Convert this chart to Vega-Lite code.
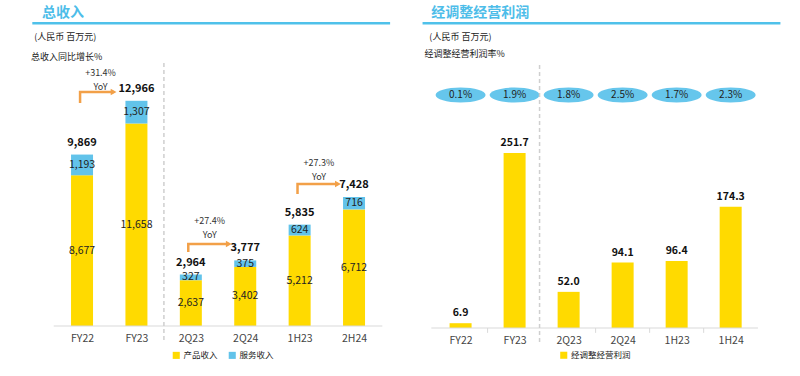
{
  "$schema": "https://vega.github.io/schema/vega-lite/v6.json",
  "padding": 0,
  "spacing": 0,
  "background": "white",
  "config": {"font": "Noto Sans CJK SC", "view": {"stroke": null}},
  "resolve": {"scale": {"color": "independent"}, "legend": {"color": "independent"}},
  "datasets": {
    "rev": [
      {"period": "FY22", "x": 0, "series": "产品收入", "y": 8677},
      {"period": "FY22", "x": 0, "series": "服务收入", "y": 1193},
      {"period": "FY23", "x": 1, "series": "产品收入", "y": 11658},
      {"period": "FY23", "x": 1, "series": "服务收入", "y": 1307},
      {"period": "2Q23", "x": 2, "series": "产品收入", "y": 2637},
      {"period": "2Q23", "x": 2, "series": "服务收入", "y": 327},
      {"period": "2Q24", "x": 3, "series": "产品收入", "y": 3402},
      {"period": "2Q24", "x": 3, "series": "服务收入", "y": 375},
      {"period": "1H23", "x": 4, "series": "产品收入", "y": 5212},
      {"period": "1H23", "x": 4, "series": "服务收入", "y": 624},
      {"period": "2H24", "x": 5, "series": "产品收入", "y": 6712},
      {"period": "2H24", "x": 5, "series": "服务收入", "y": 716}
    ],
    "tot": [
      {"period": "FY22", "x": 0, "y": 9869},
      {"period": "FY23", "x": 1, "y": 12966},
      {"period": "2Q23", "x": 2, "y": 2964},
      {"period": "2Q24", "x": 3, "y": 3777},
      {"period": "1H23", "x": 4, "y": 5835},
      {"period": "2H24", "x": 5, "y": 7428}
    ],
    "yoy": [
      {"x": 0.34, "y": 14565, "t": "+31.4%"},
      {"x": 0.34, "y": 13759, "t": "YoY"},
      {"x": 2.348, "y": 6045, "t": "+27.4%"},
      {"x": 2.348, "y": 5239, "t": "YoY"},
      {"x": 4.355, "y": 9384, "t": "+27.3%"},
      {"x": 4.355, "y": 8578, "t": "YoY"}
    ],
    "arrows": [
      {"g": "a", "o": 1, "x": -0.036, "y": 12838},
      {"g": "a", "o": 2, "x": -0.036, "y": 13472},
      {"g": "a", "o": 3, "x": 0.58, "y": 13472},
      {"g": "b", "o": 1, "x": 1.953, "y": 4260},
      {"g": "b", "o": 2, "x": 1.953, "y": 4721},
      {"g": "b", "o": 3, "x": 2.697, "y": 4721},
      {"g": "c", "o": 1, "x": 3.961, "y": 7599},
      {"g": "c", "o": 2, "x": 3.961, "y": 8175},
      {"g": "c", "o": 3, "x": 4.704, "y": 8175}
    ],
    "op": [
      {"period": "FY22", "x": 0, "y": 6.9, "m": "0.1%", "series": "经调整经营利润"},
      {"period": "FY23", "x": 1, "y": 251.7, "m": "1.9%", "series": "经调整经营利润"},
      {"period": "2Q23", "x": 2, "y": 52.0, "m": "1.8%", "series": "经调整经营利润"},
      {"period": "2Q24", "x": 3, "y": 94.1, "m": "2.5%", "series": "经调整经营利润"},
      {"period": "1H23", "x": 4, "y": 96.4, "m": "1.7%", "series": "经调整经营利润"},
      {"period": "1H24", "x": 5, "y": 174.3, "m": "2.3%", "series": "经调整经营利润"}
    ]
  },
  "hconcat": [
    {
      "width": 400,
      "height": 326,
      "layer": [
        {
          "data": {"name": "rev"},
          "mark": {"type": "bar", "width": 22},
          "encoding": {
            "x": {"field": "x", "type": "quantitative", "scale": {"domain": [-1.416, 5.753], "nice": false, "zero": false},
              "axis": {"values": [0, 1, 2, 3, 4, 5], "labelExpr": "['FY22','FY23','2Q23','2Q24','1H23','2H24'][datum.value]", "grid": false, "domain": false, "ticks": false, "tickSize": 0, "labelPadding": 7, "labelFontSize": 10.5, "labelColor": "#444", "labelOverlap": false, "labelFlush": false, "title": null}},
            "y": {"field": "y", "type": "quantitative", "stack": "zero", "scale": {"domain": [0, 18768], "nice": false, "zero": false}, "axis": null},
            "color": {"field": "series", "type": "nominal", "scale": {"domain": ["产品收入", "服务收入"], "range": ["#FFDA00", "#62C3EA"]},
              "legend": {"orient": "none", "legendX": 172, "legendY": 351, "direction": "horizontal", "title": null, "symbolType": "square", "symbolSize": 50, "symbolStrokeWidth": 0, "labelFontSize": 8.5, "labelColor": "#222", "padding": 0, "columnPadding": 10, "labelOffset": 3}},
            "order": {"field": "series", "sort": "ascending"}
          }
        },
        {
          "data": {"name": "rev"},
          "transform": [
            {"stack": "y", "groupby": ["x"], "sort": [{"field": "series"}], "as": ["y0", "y1"]},
            {"calculate": "(datum.y0 + datum.y1) / 2", "as": "ym"}
          ],
          "mark": {"type": "text", "fontSize": 10.5, "color": "#222", "baseline": "middle"},
          "encoding": {
            "x": {"field": "x", "type": "quantitative"},
            "y": {"field": "ym", "type": "quantitative"},
            "text": {"field": "y", "type": "quantitative", "format": ","}
          }
        },
        {
          "data": {"name": "tot"},
          "mark": {"type": "text", "fontSize": 11, "fontWeight": "bold", "color": "#111", "baseline": "middle", "dy": -12},
          "encoding": {
            "x": {"field": "x", "type": "quantitative"},
            "y": {"field": "y", "type": "quantitative"},
            "text": {"field": "y", "type": "quantitative", "format": ","}
          }
        },
        {
          "data": {"values": [{"x": -0.52, "x2": 5.52}]},
          "mark": {"type": "rule", "color": "#d9d9d9", "strokeWidth": 1},
          "encoding": {"x": {"field": "x", "type": "quantitative"}, "x2": {"field": "x2"}, "y": {"datum": 0}}
        },
        {
          "data": {"values": [{"x": 1.505}]},
          "mark": {"type": "rule", "color": "#cfcfcf", "strokeWidth": 1.5, "strokeDash": [4, 3]},
          "encoding": {"x": {"field": "x", "type": "quantitative"}, "y": {"datum": 15141}, "y2": {"datum": -806}}
        },
        {
          "data": {"name": "arrows"},
          "mark": {"type": "line", "color": "#F2A048", "strokeWidth": 2.5},
          "encoding": {
            "x": {"field": "x", "type": "quantitative"},
            "y": {"field": "y", "type": "quantitative"},
            "detail": {"field": "g"},
            "order": {"field": "o"}
          }
        },
        {
          "data": {"name": "arrows"},
          "transform": [{"filter": "datum.o == 3"}],
          "mark": {"type": "point", "shape": "triangle-right", "size": 45, "filled": true, "color": "#F2A048", "opacity": 1},
          "encoding": {
            "x": {"field": "x", "type": "quantitative"},
            "y": {"field": "y", "type": "quantitative"}
          }
        },
        {
          "data": {"name": "yoy"},
          "mark": {"type": "text", "fontSize": 9, "color": "#333", "baseline": "middle"},
          "encoding": {
            "x": {"field": "x", "type": "quantitative"},
            "y": {"field": "y", "type": "quantitative"},
            "text": {"field": "t"}
          }
        },
        {
          "data": {"values": [{"t": "总收入"}]},
          "mark": {"type": "text", "fontSize": 14, "fontWeight": "bold", "color": "#4DBDE9", "align": "left", "baseline": "middle"},
          "encoding": {"x": {"datum": -0.735}, "y": {"datum": 18020}, "text": {"field": "t"}}
        },
        {
          "data": {"values": [{"x": -0.914, "x2": 5.663}]},
          "mark": {"type": "rule", "color": "#4FC1EA", "strokeWidth": 2.5},
          "encoding": {"x": {"field": "x", "type": "quantitative"}, "x2": {"field": "x2"}, "y": {"datum": 17427}}
        },
        {
          "data": {"values": [{"t": "(人民币 百万元)", "x": -0.878, "y": 16655}, {"t": "总收入同比增长%", "x": -0.937, "y": 15469}]},
          "mark": {"type": "text", "fontSize": 9, "color": "#222", "align": "left", "baseline": "middle"},
          "encoding": {"x": {"field": "x", "type": "quantitative"}, "y": {"field": "y", "type": "quantitative"}, "text": {"field": "t"}}
        }
      ]
    },
    {
      "width": 400,
      "height": 328,
      "layer": [
        {
          "data": {"name": "op"},
          "mark": {"type": "bar", "width": 22},
          "encoding": {
            "x": {"field": "x", "type": "quantitative", "scale": {"domain": [-1.029, 6.191], "nice": false, "zero": false},
              "axis": {"values": [0, 1, 2, 3, 4, 5], "labelExpr": "['FY22','FY23','2Q23','2Q24','1H23','1H24'][datum.value]", "grid": false, "domain": false, "ticks": false, "tickSize": 0, "labelPadding": 7, "labelFontSize": 10.5, "labelColor": "#444", "labelOverlap": false, "labelFlush": false, "title": null}},
            "y": {"field": "y", "type": "quantitative", "scale": {"domain": [0, 471.9], "nice": false, "zero": false}, "axis": null},
            "color": {"field": "series", "type": "nominal", "scale": {"domain": ["经调整经营利润"], "range": ["#FFDA00"]},
              "legend": {"orient": "none", "legendX": 159.5, "legendY": 351, "direction": "horizontal", "title": null, "symbolType": "square", "symbolSize": 50, "symbolStrokeWidth": 0, "labelFontSize": 8.5, "labelColor": "#222", "padding": 0, "labelOffset": 3}}
          }
        },
        {
          "data": {"name": "op"},
          "mark": {"type": "text", "fontSize": 10.5, "fontWeight": "bold", "color": "#111", "baseline": "middle", "dy": -10},
          "encoding": {
            "x": {"field": "x", "type": "quantitative"},
            "y": {"field": "y", "type": "quantitative"},
            "text": {"field": "y", "type": "quantitative", "format": ".1f"}
          }
        },
        {
          "data": {"name": "op"},
          "mark": {"type": "point", "shape": "M-1,0A1,0.3,0,1,1,1,0A1,0.3,0,1,1,-1,0Z", "size": 2500, "filled": true, "color": "#66C6EC", "opacity": 1},
          "encoding": {
            "x": {"field": "x", "type": "quantitative"},
            "y": {"datum": 335.2}
          }
        },
        {
          "data": {"name": "op"},
          "mark": {"type": "text", "fontSize": 10, "color": "#222", "baseline": "middle"},
          "encoding": {
            "x": {"field": "x", "type": "quantitative"},
            "y": {"datum": 335.2},
            "text": {"field": "m"}
          }
        },
        {
          "data": {"values": [{"x": -0.542, "x2": 5.505}]},
          "mark": {"type": "rule", "color": "#d9d9d9", "strokeWidth": 1},
          "encoding": {"x": {"field": "x", "type": "quantitative"}, "x2": {"field": "x2"}, "y": {"datum": 0}}
        },
        {
          "data": {"values": [{"x": 0.5}, {"x": 2.5}, {"x": 3.5}, {"x": 4.5}]},
          "mark": {"type": "rule", "color": "#d9d9d9", "strokeWidth": 1},
          "encoding": {"x": {"field": "x", "type": "quantitative"}, "y": {"datum": 0}, "y2": {"datum": -7}}
        },
        {
          "data": {"values": [{"x": 1.462}]},
          "mark": {"type": "rule", "color": "#cfcfcf", "strokeWidth": 1.5, "strokeDash": [4, 3]},
          "encoding": {"x": {"field": "x", "type": "quantitative"}, "y": {"datum": 378.4}, "y2": {"datum": -20.1}}
        },
        {
          "data": {"values": [{"t": "经调整经营利润"}]},
          "mark": {"type": "text", "fontSize": 14, "fontWeight": "bold", "color": "#4DBDE9", "align": "left", "baseline": "middle"},
          "encoding": {"x": {"datum": -0.5415}, "y": {"datum": 453.9}, "text": {"field": "t"}}
        },
        {
          "data": {"values": [{"x": -0.704, "x2": 5.921}]},
          "mark": {"type": "rule", "color": "#4FC1EA", "strokeWidth": 2.5},
          "encoding": {"x": {"field": "x", "type": "quantitative"}, "x2": {"field": "x2"}, "y": {"datum": 438.4}}
        },
        {
          "data": {"values": [{"t": "(人民币 百万元)", "x": -0.578, "y": 419.1}, {"t": "经调整经营利润率%", "x": -0.668, "y": 394.2}]},
          "mark": {"type": "text", "fontSize": 9, "color": "#222", "align": "left", "baseline": "middle"},
          "encoding": {"x": {"field": "x", "type": "quantitative"}, "y": {"field": "y", "type": "quantitative"}, "text": {"field": "t"}}
        }
      ]
    }
  ]
}
